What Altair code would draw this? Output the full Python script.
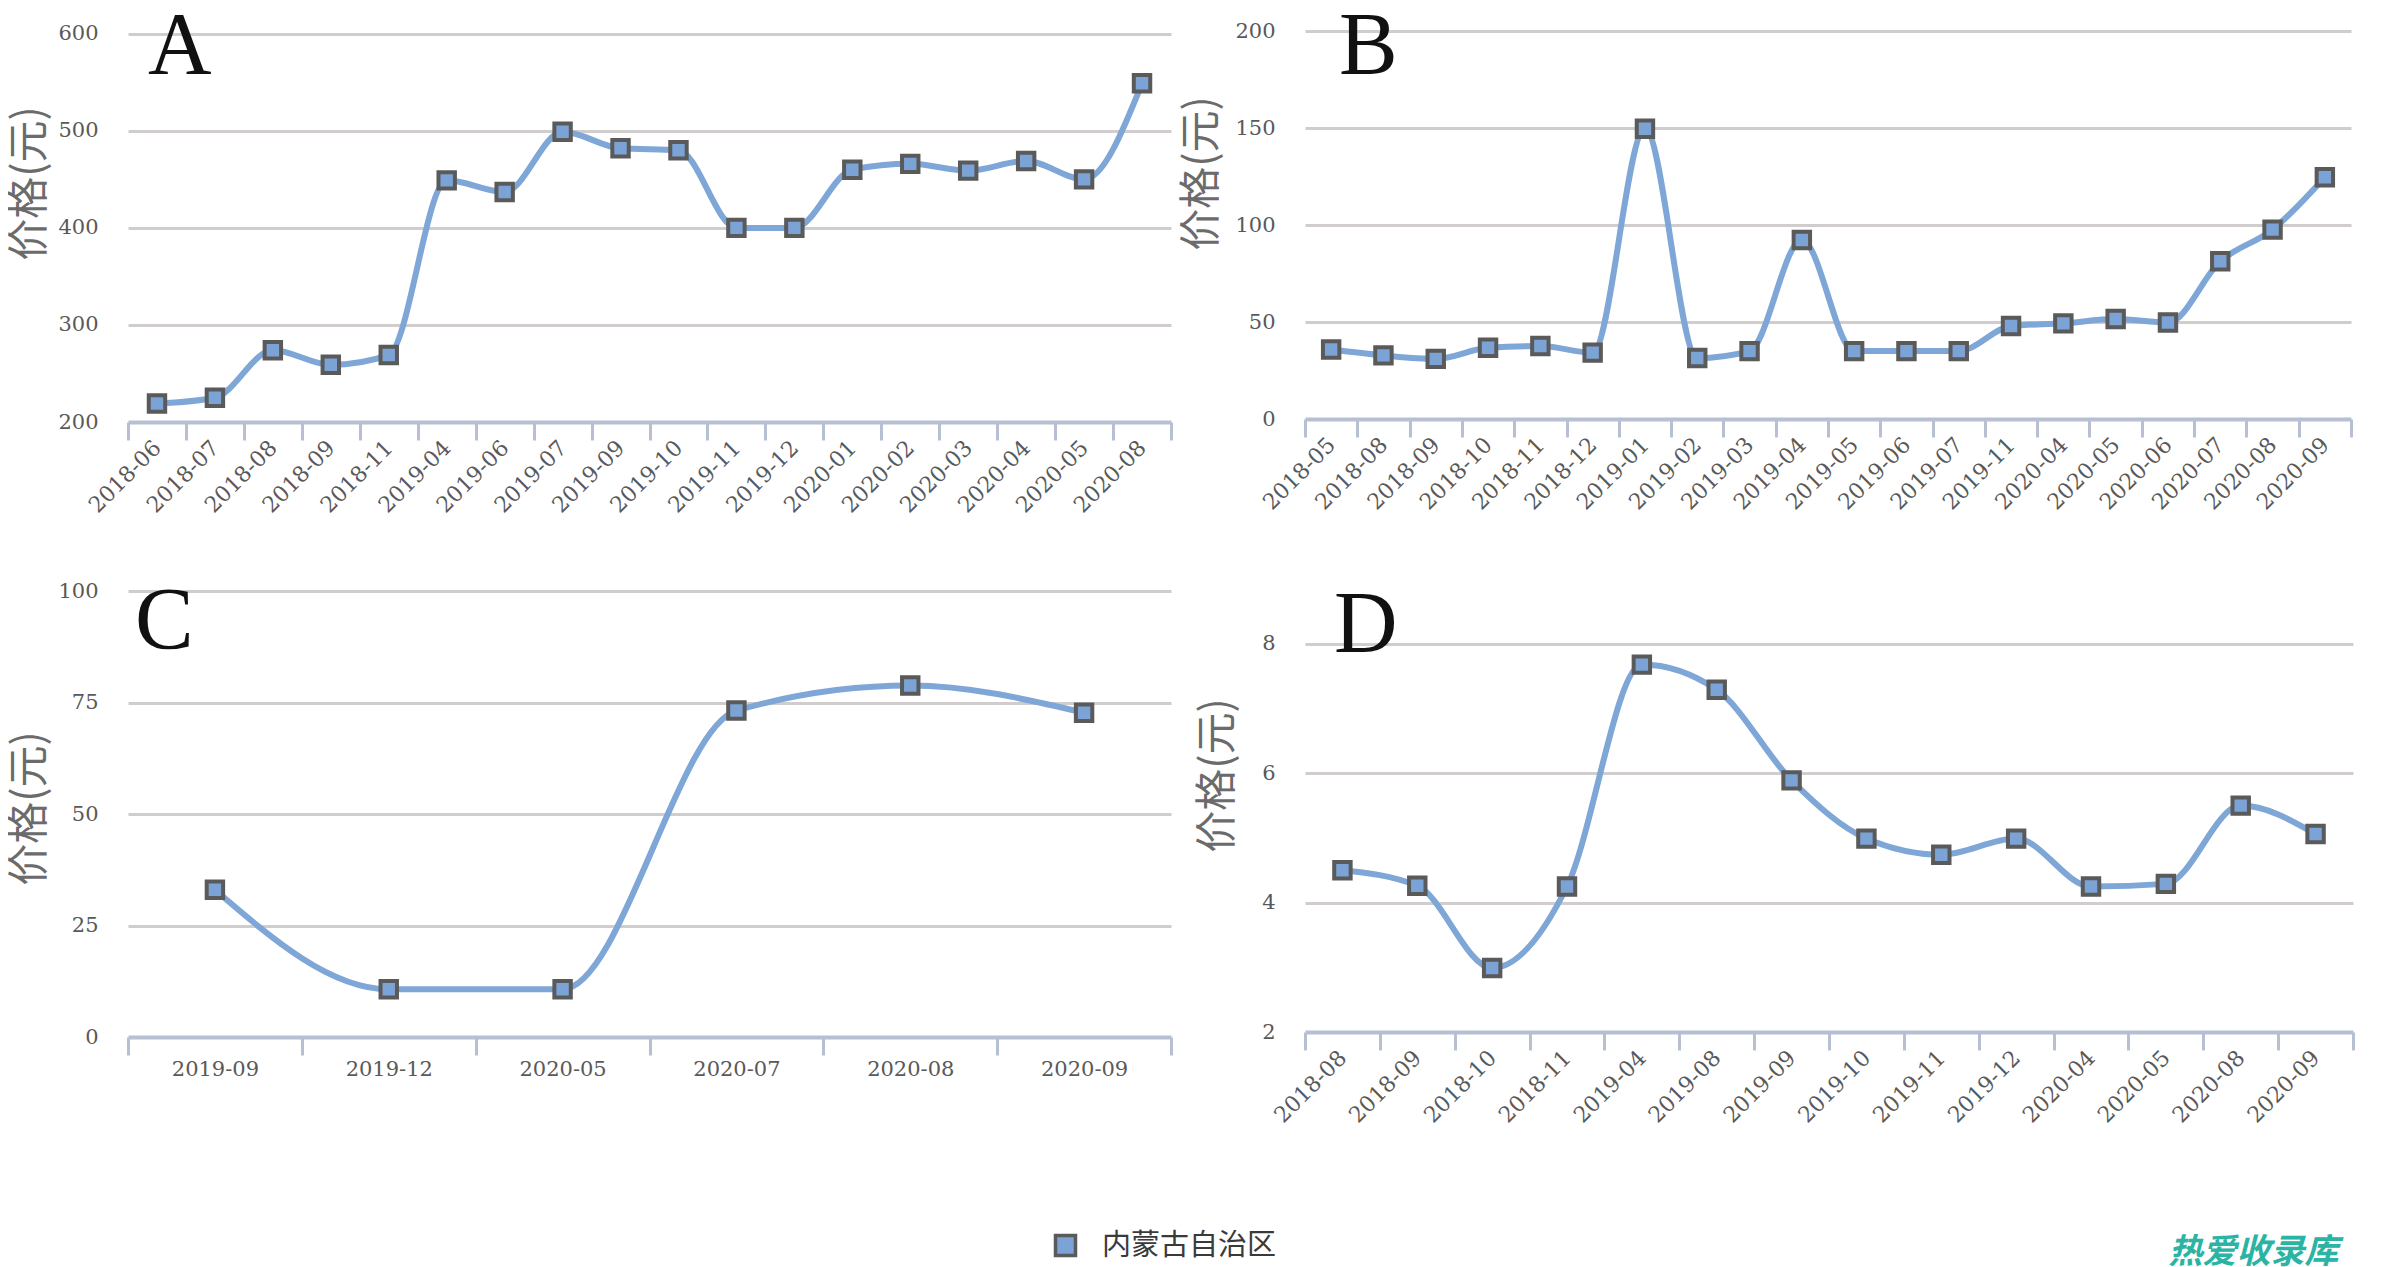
import altair as alt
import pandas as pd

A_months = ["2018-06", "2018-07", "2018-08", "2018-09", "2018-11", "2019-04", "2019-06", "2019-07", "2019-09",
            "2019-10", "2019-11", "2019-12", "2020-01", "2020-02", "2020-03", "2020-04", "2020-05", "2020-08"]
A_values = [219, 225, 274, 259, 269, 449, 437, 499, 482, 480, 400, 400, 460, 466, 459, 469, 450, 549]

B_months = ["2018-05", "2018-08", "2018-09", "2018-10", "2018-11", "2018-12", "2019-01", "2019-02", "2019-03",
            "2019-04", "2019-05", "2019-06", "2019-07", "2019-11", "2020-04", "2020-05", "2020-06", "2020-07",
            "2020-08", "2020-09"]
B_values = [35.8, 32.8, 31.0, 36.7, 37.6, 34.2, 149.6, 31.4, 35.0, 92.3, 35.0, 35.0, 35.0, 47.9, 49.3, 51.5,
            49.7, 81.3, 97.6, 124.6]

C_months = ["2019-09", "2019-12", "2020-05", "2020-07", "2020-08", "2020-09"]
C_values = [33.0, 10.7, 10.7, 73.2, 78.8, 72.7]

D_months = ["2018-08", "2018-09", "2018-10", "2018-11", "2019-04", "2019-08", "2019-09", "2019-10", "2019-11",
            "2019-12", "2020-04", "2020-05", "2020-08", "2020-09"]
D_values = [4.50, 4.26, 2.99, 4.25, 7.68, 7.29, 5.89, 4.99, 4.74, 4.99, 4.25, 4.29, 5.50, 5.06]

SERIES = "内蒙古自治区"
Y_TITLE = "价格(元)"
WATERMARK = "热爱收录库"

LINE_COLOR = "#7ea6d6"
FILL_COLOR = "#7ba3d6"
MARK_STROKE = "#5a5a5a"
AXIS_COLOR = "#b7c0d3"
GRID_COLOR = "#d2cdcd"
LABEL_COLOR = "#595959"


def panel(months, values, letter, width, height, ydomain, yticks, title_x, title_y,
          letter_x, letter_y, rotated):
    df = pd.DataFrame({"月份": months, "价格": values, "地区": [SERIES] * len(months)})
    ymin = yticks[0]
    x_axis = alt.Axis(
        title=None,
        labelAngle=315 if rotated else 0,
        labelAlign="right" if rotated else "center",
        labelBaseline="middle" if rotated else "top",
        labelPadding=4 if rotated else 3,
        labelFont="DejaVu Serif",
        labelFontSize=22 if rotated else 21,
        labelColor=LABEL_COLOR,
        tickBand="extent",
        tickSize=18,
        tickWidth=3,
        tickColor=AXIS_COLOR,
        domainColor=AXIS_COLOR,
        domainWidth=4,
        grid=False,
        labelOverlap=False,
        zindex=1,
    )
    y_axis = alt.Axis(
        title=Y_TITLE,
        values=yticks,
        titleFont="Noto Sans CJK SC",
        titleFontSize=42,
        titleFontWeight="normal",
        titleColor="#6b6b6b",
        titleAngle=270,
        titleAlign="center",
        titleBaseline="middle",
        titleX=title_x,
        titleY=title_y,
        labelFont="DejaVu Serif",
        labelFontSize=21,
        labelColor=LABEL_COLOR,
        labelPadding=30,
        ticks=False,
        domain=False,
        grid=True,
        gridColor=GRID_COLOR,
        gridWidth=3,
        gridOpacity={"condition": {"test": f"datum.value == {ymin}", "value": 0}, "value": 1},
    )
    x = alt.X("月份:N", sort=months, bandPosition=0.5,
              scale=alt.Scale(type="band", paddingInner=0, paddingOuter=0), axis=x_axis)
    y = alt.Y("价格:Q", scale=alt.Scale(domain=ydomain, nice=False, zero=False), axis=y_axis)
    base = alt.Chart(df).encode(x=x, y=y)
    line = base.mark_line(interpolate="monotone", color=LINE_COLOR, strokeWidth=6)
    pts = base.mark_point(shape="square", filled=True, size=270, stroke=MARK_STROKE,
                          strokeWidth=4, opacity=1).encode(
        color=alt.Color("地区:N", scale=alt.Scale(range=[FILL_COLOR]),
                        legend=alt.Legend(
                            title=None, orient="none", legendX=923, legendY=1200,
                            symbolType="square", symbolSize=400, symbolStrokeColor=MARK_STROKE,
                            symbolStrokeWidth=3.5, symbolFillColor=FILL_COLOR, symbolOpacity=1,
                            labelFont="Noto Sans CJK SC", labelFontSize=29, labelColor="#3a3a3a",
                            labelLimit=0, labelOffset=22, direction="horizontal"))
    )
    txt = alt.Chart(pd.DataFrame({"t": [letter]})).mark_text(
        align="left", baseline="alphabetic", font="Liberation Serif", fontSize=88, color="#111111"
    ).encode(x=alt.value(letter_x), y=alt.value(letter_y), text="t:N")
    return alt.layer(line, pts, txt).properties(width=width, height=height)


pA = panel(A_months, A_values, "A", 1043, 391, [200, 602.9], [200, 300, 400, 500, 600],
           -99, 152, 20, 41.5, True)
pB = panel(B_months, B_values, "B", 1046, 388, [0, 200], [0, 50, 100, 150, 200],
           -104, 142, 34, 41.5, True)
pC = panel(C_months, C_values, "C", 1043, 446, [0, 100], [0, 25, 50, 75, 100],
           -99, 217, 7, 57, False)
pD = panel(D_months, D_values, "D", 1048, 441, [2, 8.818], [2, 4, 6, 8],
           -88, 184, 29, 60.5, True)

chart = alt.concat(pA, pB, pC, pD, columns=2, spacing={"row": 61, "column": 7}).properties(
    padding={"top": -6, "left": 0, "right": 0, "bottom": 0},
    title=alt.Title(WATERMARK, orient="bottom", anchor="end", color="#2bb3a3",
                    font="Noto Sans CJK SC", fontSize=34, fontWeight="bold", fontStyle="italic",
                    offset=0, dx=-16, dy=-27),
).configure_view(stroke=None).resolve_scale(color="shared")

chart.save("out.html", embed_options={"renderer": "svg", "actions": False})
